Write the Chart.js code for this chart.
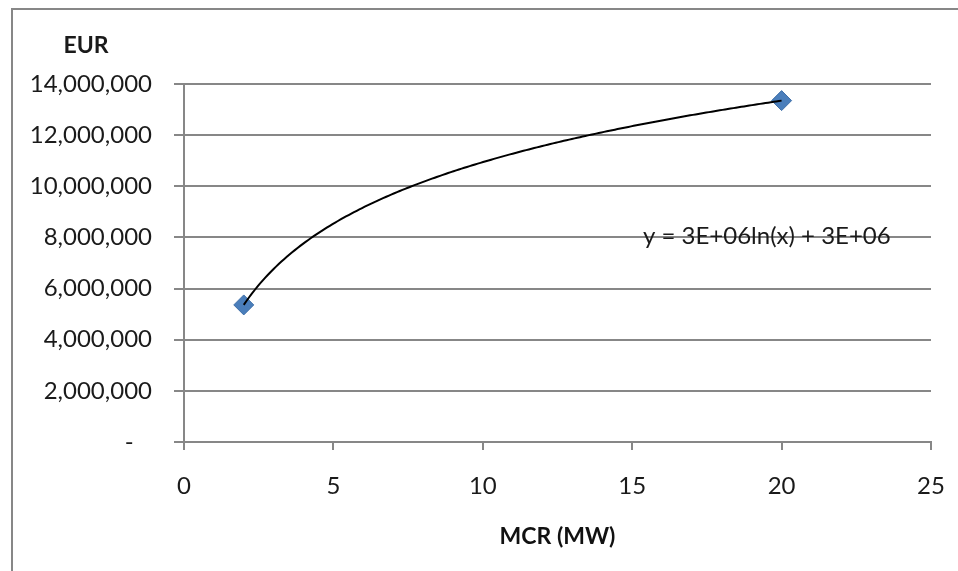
<!DOCTYPE html>
<html>
<head>
<meta charset="utf-8">
<script src="https://cdn.jsdelivr.net/npm/chart.js@4"></script>
<style>
  html, body { margin: 0; padding: 0; background: #fff; }
  #wrap { width: 958px; height: 571px; }
</style>
</head>
<body>
<div id="wrap"><canvas id="costChart" width="958" height="571"></canvas></div>
<script>
// MCR in MW vs cost in EUR
const mcrValues = [2, 20];
const costValues = [5360000, 13350000];
const xTicks = [0, 5, 10, 15, 20, 25];
const yTicks = [0, 2000000, 4000000, 6000000, 8000000, 10000000, 12000000, 14000000];

const gridGray = '#878787';
const fontFamily = 'Lato, "Open Sans", sans-serif';

// least squares fit of y = a*ln(x) + b, like Excel's log trendline
function logFit(xs, ys) {
    const n = xs.length;
    const lx = xs.map(v => Math.log(v));
    const mx = lx.reduce((s, v) => s + v, 0) / n;
    const my = ys.reduce((s, v) => s + v, 0) / n;
    let sxy = 0, sxx = 0;
    for (let i = 0; i < n; i++) {
        sxy += (lx[i] - mx) * (ys[i] - my);
        sxx += (lx[i] - mx) * (lx[i] - mx);
    }
    const a = sxy / sxx;
    return { a: a, b: my - a * mx };
}

function excelExp(v) {
    // 3e+6 -> 3E+06
    const parts = v.toExponential(0).split('e');
    const exp = parseInt(parts[1], 10);
    const sign = exp < 0 ? '-' : '+';
    return parts[0] + 'E' + sign + String(Math.abs(exp)).padStart(2, '0');
}

const fit = logFit(mcrValues, costValues);

const extras = {
    id: 'extras',
    beforeDraw(chart) {
        const ctx = chart.ctx;
        ctx.save();
        ctx.strokeStyle = gridGray;
        ctx.lineWidth = 2;
        ctx.strokeRect(12, 9, 1000, 1000); // chart frame, runs off the right/bottom edge
        ctx.restore();
    },
    afterDatasetsDraw(chart) {
        const ctx = chart.ctx;
        const xs = chart.scales.x, ys = chart.scales.y;
        const x0 = Math.min(...mcrValues), x1 = Math.max(...mcrValues);
        ctx.save();
        ctx.beginPath();
        for (let i = 0; i <= 200; i++) {
            const xv = x0 + (x1 - x0) * i / 200;
            const px = xs.getPixelForValue(xv);
            const py = ys.getPixelForValue(fit.a * Math.log(xv) + fit.b);
            if (i === 0) ctx.moveTo(px, py); else ctx.lineTo(px, py);
        }
        ctx.strokeStyle = '#000';
        ctx.lineWidth = 2;
        ctx.stroke();

        // trendline equation
        ctx.fillStyle = '#1a1a1a';
        ctx.font = '24px ' + fontFamily;
        ctx.textBaseline = 'middle';
        ctx.textAlign = 'left';
        ctx.fillText('y = ' + excelExp(fit.a) + 'ln(x) + ' + excelExp(fit.b), 643, 236);

        // y axis title sits above the tick labels
        ctx.font = 'bold 23px ' + fontFamily;
        ctx.textAlign = 'center';
        ctx.fillText('EUR', 86, 46);
        ctx.restore();
    }
};

const ctx = document.getElementById('costChart').getContext('2d');
const costChart = new Chart(ctx, {
    type: 'scatter',
    data: {
        datasets: [{
            label: 'Cost',
            data: mcrValues.map((x, i) => ({ x: x, y: costValues[i] })),
            pointStyle: 'rectRot',
            pointRadius: 10,
            pointHoverRadius: 10,
            backgroundColor: '#4A7EBB',
            borderColor: '#3F6FA8',
            borderWidth: 1
        }]
    },
    options: {
        responsive: false,
        animation: false,
        layout: {
            padding: { top: 84, right: 27, left: 0, bottom: 0 }
        },
        plugins: {
            legend: { display: false },
            tooltip: { enabled: false }
        },
        scales: {
            x: {
                type: 'linear',
                min: 0,
                max: 25,
                afterBuildTicks: (scale) => { scale.ticks = xTicks.map(v => ({ value: v })); },
                afterFit: (scale) => {
                    scale.height = 129;
                    scale.paddingRight = 0; // let layout padding set the right edge
                },
                grid: {
                    drawOnChartArea: false,
                    drawTicks: true,
                    tickLength: 8,
                    color: gridGray,
                    lineWidth: 2
                },
                border: { display: true, color: gridGray, width: 2 },
                ticks: {
                    color: '#1a1a1a',
                    padding: 22,
                    font: { family: fontFamily, size: 24 }
                },
                title: {
                    display: true,
                    text: 'MCR (MW)',
                    color: '#111',
                    font: { family: fontFamily, size: 23, weight: 'bold' },
                    padding: { top: 10, bottom: 21 }
                }
            },
            y: {
                type: 'linear',
                min: 0,
                max: 14000000,
                afterBuildTicks: (scale) => { scale.ticks = yTicks.map(v => ({ value: v })); },
                afterFit: (scale) => { scale.width = 184; },
                grid: {
                    drawOnChartArea: true,
                    drawTicks: true,
                    tickLength: 10,
                    color: gridGray,
                    lineWidth: 2
                },
                border: { display: true, color: gridGray, width: 2 },
                ticks: {
                    color: '#1a1a1a',
                    padding: 22,
                    font: { family: fontFamily, size: 24 },
                    callback: (v) => v === 0 ? '-   ' : v.toLocaleString('en-US')
                }
            }
        }
    },
    plugins: [extras]
});
</script>
</body>
</html>
